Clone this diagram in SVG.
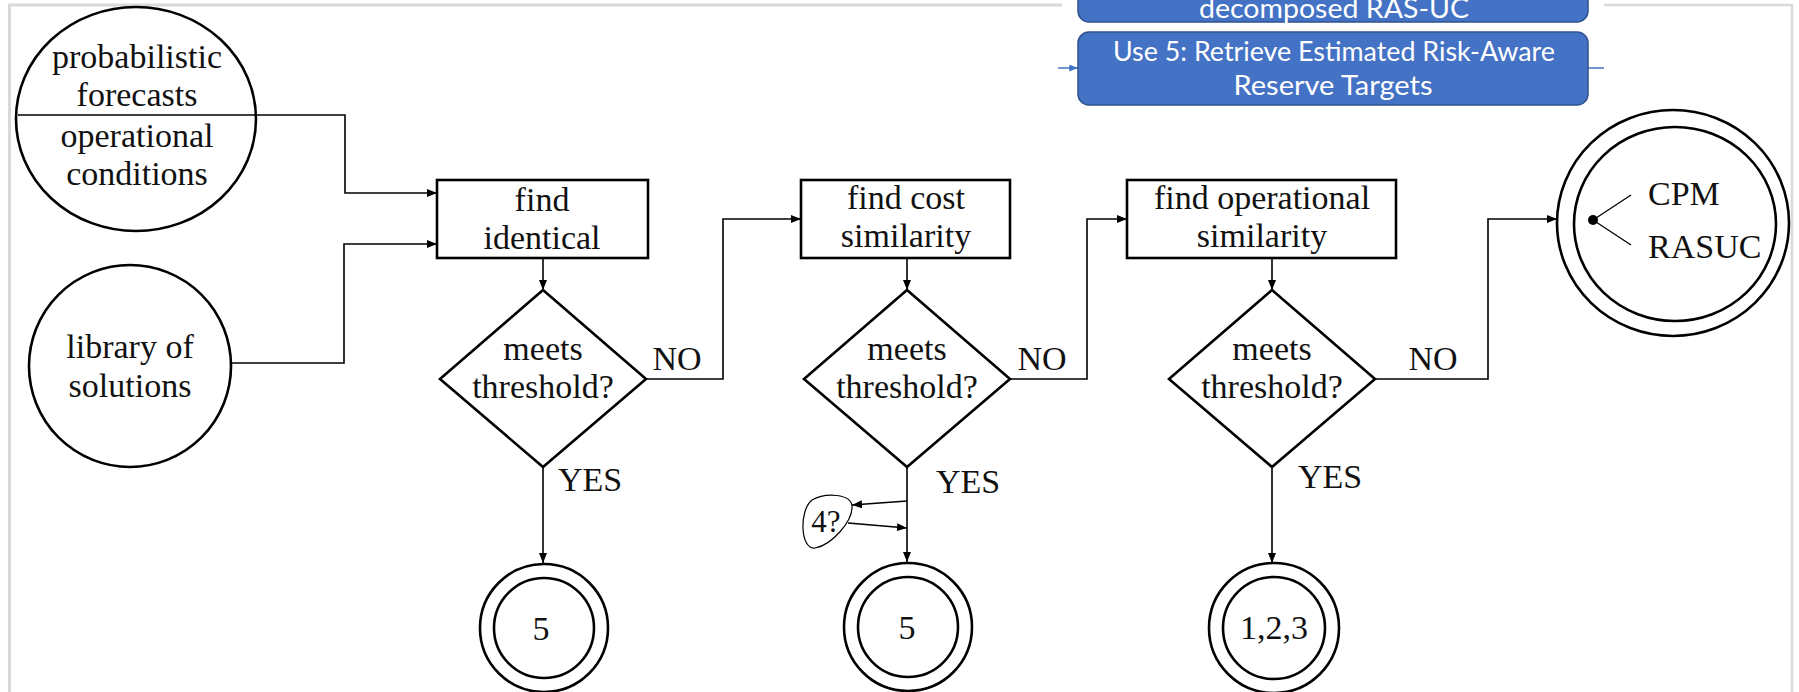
<svg xmlns="http://www.w3.org/2000/svg" width="1799" height="692" viewBox="0 0 1799 692">
<defs>
<marker id="arr" viewBox="0 0 10 8" refX="10" refY="4" markerWidth="10" markerHeight="8" markerUnits="userSpaceOnUse" orient="auto">
<path d="M0,0 L10,4 L0,8 Z" fill="#000"/>
</marker>
<marker id="barr" viewBox="0 0 10 8" refX="10" refY="4" markerWidth="9" markerHeight="7" markerUnits="userSpaceOnUse" orient="auto">
<path d="M0,0 L10,4 L0,8 Z" fill="#4472C4"/>
</marker>
<style>
.t{font-family:"Liberation Serif","Times New Roman",serif;font-size:34px;fill:#111;text-anchor:middle}
.s{fill:#fff;stroke:#000;stroke-width:2.6}
.c{fill:none;stroke:#000;stroke-width:1.6}
.frame{fill:none;stroke:#d9d9d9;stroke-width:3}
.blue{fill:#4472C4;stroke:#2F528F;stroke-width:1.5}
.bt{font-family:Lato,"Open Sans",sans-serif;font-size:27px;fill:#fff;text-anchor:middle}
</style>
</defs>
<rect width="1799" height="692" fill="#fff"/>
<g id="frame">
<path class="frame" d="M9.5,692 V5 H1062"/>
<path class="frame" d="M1604,5 H1792 V692" style="stroke-width:2.5"/>
</g>
<g id="blue-top">
<rect class="blue" x="1078" y="-20" width="510" height="42" rx="11"/>
<text class="bt" x="1334" y="18" textLength="270" lengthAdjust="spacingAndGlyphs">decomposed RAS-UC</text>
</g>
<g id="blue-use5">
<path d="M1058,68 H1078" stroke="#4472C4" stroke-width="1.5" marker-end="url(#barr)"/>
<path d="M1588,68 H1604" stroke="#4472C4" stroke-width="1.5"/>
<rect class="blue" x="1078" y="32" width="510" height="73" rx="11"/>
<text class="bt" x="1334" y="61" textLength="442" lengthAdjust="spacingAndGlyphs">Use 5: Retrieve Estimated Risk-Aware</text>
<text class="bt" x="1333" y="95" textLength="199" lengthAdjust="spacingAndGlyphs">Reserve Targets</text>
</g>
<g id="connectors">
<path class="c" d="M18,115 H345 V193 H437" marker-end="url(#arr)"/>
<path class="c" d="M231,363 H344 V244 H437" marker-end="url(#arr)"/>
<path class="c" d="M543,258 V290" marker-end="url(#arr)"/>
<path class="c" d="M646,379 H723 V219 H801" marker-end="url(#arr)"/>
<path class="c" d="M543,467 V563" marker-end="url(#arr)"/>
<path class="c" d="M907,258 V290" marker-end="url(#arr)"/>
<path class="c" d="M1010,379 H1087 V219 H1127" marker-end="url(#arr)"/>
<path class="c" d="M907,467 V562" marker-end="url(#arr)"/>
<path class="c" d="M907,501 L852,505" marker-end="url(#arr)"/>
<path class="c" d="M848,523 L907,528" marker-end="url(#arr)"/>
<path class="c" d="M1272,258 V290" marker-end="url(#arr)"/>
<path class="c" d="M1375,379 H1488 V219 H1557" marker-end="url(#arr)"/>
<path class="c" d="M1272,467 V563" marker-end="url(#arr)"/>
</g>
<g id="forecasts">
<ellipse cx="136" cy="119" rx="120" ry="112" fill="none" stroke="#000" stroke-width="2.6"/>
<text class="t" x="137" y="68">probabilistic</text>
<text class="t" x="137" y="106">forecasts</text>
<text class="t" x="137" y="147">operational</text>
<text class="t" x="137" y="185">conditions</text>
</g>
<g id="library">
<circle class="s" cx="130" cy="366" r="101"/>
<text class="t" x="130" y="358">library of</text>
<text class="t" x="130" y="397">solutions</text>
</g>
<g id="find-identical">
<rect class="s" x="437" y="180" width="211" height="78"/>
<text class="t" x="542" y="211">find</text>
<text class="t" x="542" y="249">identical</text>
</g>
<g id="threshold-1">
<path class="s" d="M543,290 L646,379 L543,467 L440,379 Z"/>
<text class="t" x="543" y="360">meets</text>
<text class="t" x="543" y="398">threshold?</text>
<text class="t" x="677" y="370">NO</text>
<text class="t" x="590" y="491">YES</text>
</g>
<g id="find-cost">
<rect class="s" x="801" y="180" width="209" height="78"/>
<text class="t" x="906" y="209">find cost</text>
<text class="t" x="906" y="247">similarity</text>
</g>
<g id="threshold-2">
<path class="s" d="M907,290 L1010,379 L907,467 L804,379 Z"/>
<text class="t" x="907" y="360">meets</text>
<text class="t" x="907" y="398">threshold?</text>
<text class="t" x="1042" y="370">NO</text>
<text class="t" x="968" y="493">YES</text>
</g>
<g id="find-operational">
<rect class="s" x="1127" y="180" width="269" height="78"/>
<text class="t" x="1262" y="209">find operational</text>
<text class="t" x="1262" y="247">similarity</text>
</g>
<g id="threshold-3">
<path class="s" d="M1272,290 L1375,379 L1272,467 L1169,379 Z"/>
<text class="t" x="1272" y="360">meets</text>
<text class="t" x="1272" y="398">threshold?</text>
<text class="t" x="1433" y="370">NO</text>
<text class="t" x="1330" y="488">YES</text>
</g>
<g id="q4">
<path d="M812,500 C826,492 851,494 852,506 C853,521 832,545 815,548 C800,550 799,510 812,500 Z" fill="#fff" stroke="#000" stroke-width="1.2"/>
<text class="t" x="826" y="532" style="font-size:31px">4?</text>
</g>
<g id="end-5a">
<circle class="s" cx="544" cy="628" r="64"/>
<circle class="s" cx="544" cy="628" r="50"/>
<text class="t" x="541" y="640">5</text>
</g>
<g id="end-5b">
<circle class="s" cx="908" cy="627" r="64"/>
<circle class="s" cx="908" cy="627" r="50"/>
<text class="t" x="907" y="639">5</text>
</g>
<g id="end-123">
<circle class="s" cx="1274" cy="628" r="65"/>
<circle class="s" cx="1274" cy="628" r="51"/>
<text class="t" x="1274" y="639">1,2,3</text>
</g>
<g id="cpm-rasuc">
<ellipse class="s" cx="1673" cy="223" rx="116" ry="113"/>
<ellipse class="s" cx="1675" cy="224" rx="101" ry="97"/>
<circle cx="1593" cy="220" r="5" fill="#000"/>
<path class="c" d="M1593,220 L1631,195 M1593,220 L1631,245" style="stroke-width:1.3"/>
<text class="t" x="1648" y="205" style="text-anchor:start">CPM</text>
<text class="t" x="1648" y="258" style="text-anchor:start">RASUC</text>
</g>
</svg>
